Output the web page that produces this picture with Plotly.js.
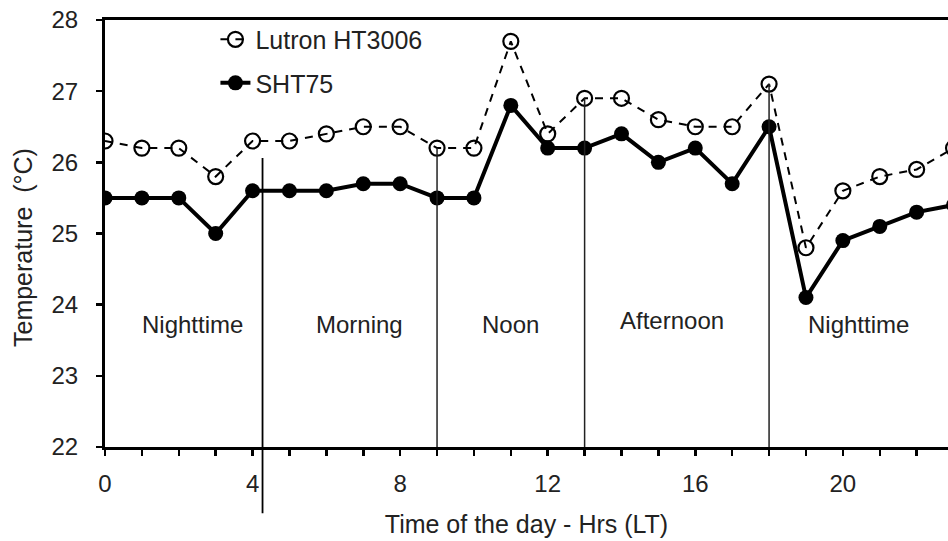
<!DOCTYPE html>
<html>
<head>
<meta charset="utf-8">
<script src="https://cdn.plot.ly/plotly-3.0.1.min.js"></script>
<style>html,body{margin:0;padding:0;background:#fff}#chart{width:948px;height:541px}</style>
</head>
<body>
<div id="chart"></div>
<script>
const hours = [0,1,2,3,4,5,6,7,8,9,10,11,12,13,14,15,16,17,18,19,20,21,22,23];
const lutron = [26.3,26.2,26.2,25.8,26.3,26.3,26.4,26.5,26.5,26.2,26.2,27.7,26.4,26.9,26.9,26.6,26.5,26.5,27.1,24.8,25.6,25.8,25.9,26.2];
const sht75 = [25.5,25.5,25.5,25.0,25.6,25.6,25.6,25.7,25.7,25.5,25.5,26.8,26.2,26.2,26.4,26.0,26.2,25.7,26.5,24.1,24.9,25.1,25.3,25.4];
const periodNames = ["Nighttime","Morning","Noon","Afternoon","Nighttime"];
const periodLabelX = [2.36,6.9,10.98,15.37,20.43];
const periodLabelY = [23.72,23.72,23.72,23.78,23.72];
const dividerX = [9,13,18];
const dividerTop = [26.2,26.9,27.1];
const xTickVals = [0,4,8,12,16,20];
const yTitle = "Temperature  (°C)";
const xTitle = "Time of the day - Hrs (LT)";

const fam = "Liberation Sans, Arial, sans-serif";
const tickFont = {family:fam, size:24, color:"#222"};
const titleFont = {family:fam, size:25, color:"#222"};
const labelFont = {family:fam, size:24, color:"#222"};

const traces = [
  {x:hours, y:lutron, name:"Lutron HT3006", legendgroup:"a", type:"scatter", mode:"lines+markers",
   line:{color:"#000", width:2, dash:"8px,7px"},
   marker:{symbol:"circle-open", size:15, color:"#000", line:{width:2.2, color:"#000"}}},
  {x:hours, y:sht75, name:"SHT75", legendgroup:"b", type:"scatter", mode:"lines+markers",
   line:{color:"#000", width:4},
   marker:{symbol:"circle", size:15, color:"#000"}}
];

const shapes = dividerX.map((xv,i)=>({type:"line", xref:"x", yref:"y", x0:xv, x1:xv, y0:22, y1:dividerTop[i], line:{color:"#222", width:1.5}}));
shapes.push({type:"line", xref:"x", yref:"paper", x0:4.27, x1:4.27, y0:-0.155, y1:0.677, line:{color:"#000", width:1.8}});

const annotations = periodNames.map((t,i)=>({x:periodLabelX[i], y:periodLabelY[i], xref:"x", yref:"y", text:t, showarrow:false, font:labelFont}));
annotations.push({xref:"paper", yref:"paper", x:0, y:0.466, xshift:-82, text:yTitle, textangle:-90, showarrow:false, font:titleFont, xanchor:"center", yanchor:"middle"});

const layout = {
  width:948, height:541,
  margin:{l:105, r:0, t:20, b:94},
  paper_bgcolor:"#fff", plot_bgcolor:"#fff",
  font:tickFont,
  showlegend:true,
  legend:{x:0.131, y:1.008, xanchor:"left", yanchor:"top", bgcolor:"rgba(0,0,0,0)", font:{family:fam, size:25, color:"#222"},
    traceorder:"grouped", tracegroupgap:8, itemwidth:30},
  xaxis:{range:[0,22.85], tickvals:xTickVals, ticks:"outside", ticklen:6, tickwidth:2.5, tickcolor:"#000",
    minor:{dtick:1, tick0:0, ticks:"outside", ticklen:6, tickwidth:2.5, tickcolor:"#000", showgrid:false},
    showline:true, linecolor:"#000", linewidth:3, mirror:true, showgrid:false, zeroline:false,
    ticklabelstandoff:7, tickfont:tickFont,
    title:{text:xTitle, font:titleFont, standoff:20}},
  yaxis:{range:[22,28], dtick:1, ticks:"outside", ticklen:6, tickwidth:2.5, tickcolor:"#000",
    showline:true, linecolor:"#000", linewidth:3, showgrid:false, zeroline:false,
    ticklabelstandoff:13, tickfont:tickFont},
  shapes:shapes,
  annotations:annotations
};
Plotly.newPlot("chart", traces, layout, {displayModeBar:false, staticPlot:true});
</script>
</body>
</html>
